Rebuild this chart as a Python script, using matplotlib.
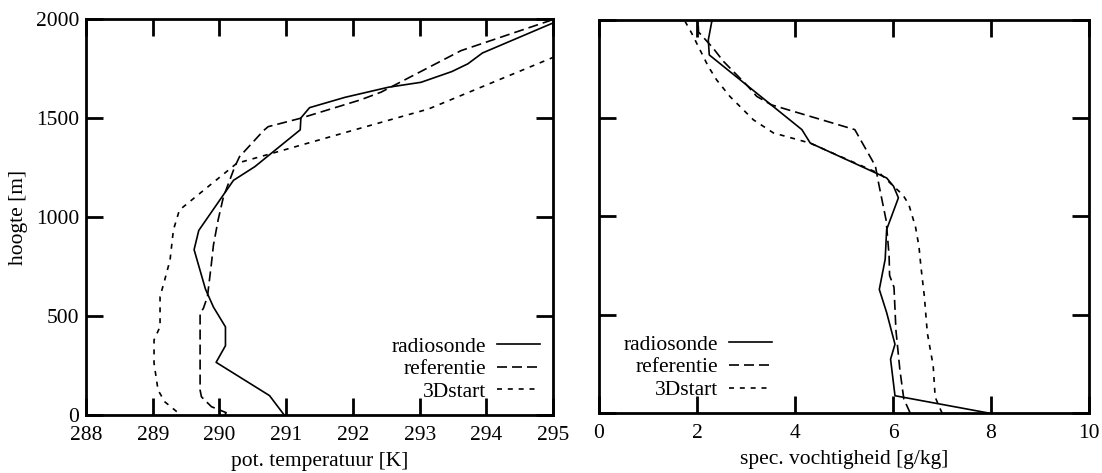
import matplotlib
matplotlib.use("Agg")
import matplotlib.pyplot as plt

plt.rcParams['font.family'] = ['Liberation Serif', 'DejaVu Serif']

# ---------------- data: left panel (potential temperature) ----------------
radio_T_h = [0, 98, 266, 350, 445, 545, 636, 835, 932, 1185, 1254, 1440, 1500,
             1552, 1604, 1655, 1680, 1734, 1773, 1828, 1980]
radio_T = [290.97, 290.75, 289.95, 290.09, 290.09, 289.91, 289.79, 289.62, 289.69,
           290.21, 290.53, 291.21, 291.22, 291.35, 291.88, 292.53, 293.02, 293.48,
           293.72, 293.94, 295.0]

ref_T_h = [0, 12, 42, 92, 126, 513, 539, 598, 766, 858, 985, 1102, 1254, 1304,
           1436, 1456, 1498, 1591, 1630, 1840, 1997]
ref_T = [290.08, 290.10, 289.88, 289.73, 289.71, 289.71, 289.76, 289.82, 289.88,
         289.91, 289.98, 290.06, 290.23, 290.30, 290.66, 290.73, 291.21, 292.11,
         292.42, 293.62, 295.0]

start_T_h = [17, 67, 126, 261, 379, 446, 598, 682, 783, 934, 1035, 1271, 1330,
             1448, 1545, 1806]
start_T = [289.36, 289.18, 289.08, 289.02, 289.02, 289.11, 289.11, 289.18, 289.26,
           289.31, 289.40, 290.26, 290.88, 292.11, 293.13, 295.0]

# ---------------- data: right panel (specific humidity) ----------------
radio_q_h = [0, 88, 274, 350, 511, 629, 782, 934, 1095, 1154, 1196, 1374, 1442,
             1822, 1898, 1991, 2000]
radio_q = [7.95, 6.04, 5.95, 6.04, 5.87, 5.72, 5.84, 5.87, 6.11, 6.01, 5.87, 4.31,
           4.14, 2.25, 2.23, 2.30, 2.31]

ref_q_h = [0, 72, 220, 420, 640, 700, 800, 980, 1164, 1257, 1442, 1568, 1611,
           1670, 1789, 1856, 1939, 2000]
ref_q = [6.35, 6.22, 6.14, 6.06, 6.02, 5.93, 5.92, 5.86, 5.71, 5.64, 5.22, 3.52,
         3.22, 3.01, 2.54, 2.33, 2.03, 2.02]

start_q_h = [0, 81, 240, 408, 593, 744, 846, 946, 1063, 1110, 1215, 1374, 1425,
             1492, 1611, 1695, 1763, 1848, 1933, 1991]
start_q = [7.0, 6.86, 6.82, 6.70, 6.64, 6.57, 6.53, 6.46, 6.32, 6.2, 5.75, 4.3,
           3.56, 3.15, 2.67, 2.40, 2.23, 2.06, 1.89, 1.76]

labels = ["radiosonde", "referentie", "3Dstart"]
T_ticks = [288, 289, 290, 291, 292, 293, 294, 295]
q_ticks = [0, 2, 4, 6, 8, 10]
h_ticks = [0, 500, 1000, 1500, 2000]

# ---------------- figure ----------------
fig = plt.figure(figsize=(11.02, 4.73), dpi=100)
axL = fig.add_axes([0.078, 0.1226, 0.424, 0.8374])
axR = fig.add_axes([0.5436, 0.1268, 0.4446, 0.831])

FS = 15.5
lw = 1.2
long_dash = (6, 3)
short_dash = (3, 3.5)

def style(ax):
    for s in ax.spines.values():
        s.set_linewidth(2.0)
    ax.tick_params(direction='in', length=12, width=2, top=True, right=True,
                   labelsize=FS)
    ax.tick_params(axis='x', pad=8)
    ax.tick_params(axis='y', pad=5)

legend_kw = dict(loc='lower right', frameon=False, markerfirst=False, fontsize=FS,
                 handlelength=2.0, handletextpad=0.5, labelspacing=0.12,
                 borderpad=0, borderaxespad=0)

# left
axL.plot(radio_T, radio_T_h, color='black', lw=lw, label=labels[0])
axL.plot(ref_T, ref_T_h, color='black', lw=lw, dashes=long_dash, label=labels[1])
axL.plot(start_T, start_T_h, color='black', lw=lw, dashes=short_dash, label=labels[2])
axL.set_xlim(288, 295)
axL.set_ylim(0, 2000)
axL.set_xticks(T_ticks)
axL.set_yticks(h_ticks)
style(axL)
axL.set_xlabel("pot. temperatuur [K]", fontsize=FS)
axL.xaxis.set_label_coords(0.5, -0.093)
axL.set_ylabel("hoogte [m]", fontsize=FS)
axL.yaxis.set_label_coords(-0.125, 0.5)
axL.legend(bbox_to_anchor=(0.972, 0.033), **legend_kw)

# right
axR.plot(radio_q, radio_q_h, color='black', lw=lw, label=labels[0])
axR.plot(ref_q, ref_q_h, color='black', lw=lw, dashes=long_dash, label=labels[1])
axR.plot(start_q, start_q_h, color='black', lw=lw, dashes=short_dash, label=labels[2])
axR.set_xlim(0, 10)
axR.set_ylim(0, 2000)
axR.set_xticks(q_ticks)
axR.set_yticks(h_ticks)
style(axR)
axR.tick_params(labelleft=False)
axR.set_xlabel("spec. vochtigheid [g/kg]", fontsize=FS)
axR.xaxis.set_label_coords(0.5, -0.093)
axR.legend(bbox_to_anchor=(0.353, 0.033), **legend_kw)

fig.savefig("out.png", dpi=100)
